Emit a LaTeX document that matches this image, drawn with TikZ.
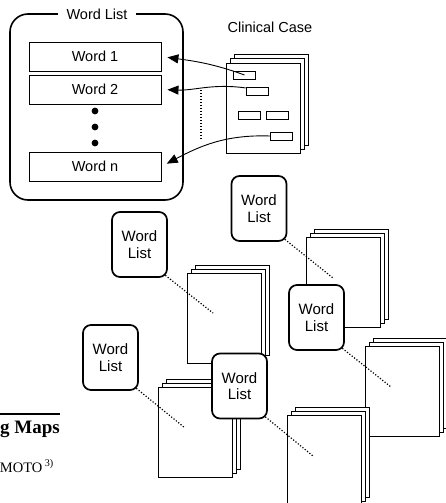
\documentclass[tikz,border=0pt]{standalone}
\usepackage{fontspec}
\setmainfont{Liberation Sans}
\newfontfamily\serifpage{Liberation Serif}
\usetikzlibrary{arrows.meta,calc}

\tikzset{
  sheet/.style={draw, fill=white, line width=1pt},
  wordbox/.style={draw, line width=.9pt, minimum width=132pt, minimum height=29pt, inner sep=0pt},
  keybox/.style={draw, line width=.9pt, minimum width=22pt, minimum height=8pt, inner sep=0pt},
  wlist/.style={draw, fill=white, line width=1.7pt, rounded corners=8pt, minimum width=55pt,
    minimum height=65pt, align=center, inner sep=0pt, font=\fontsize{15}{16.5}\selectfont},
  link/.style={dash pattern=on 1.2pt off 1.8pt, line width=1.2pt},
  pick/.style={-{Triangle[length=11pt,width=9pt]}, line width=.9pt, shorten >=6pt},
}

% three sheets, front one named #1, top left corner at (#2,#3)
\newcommand{\pagestack}[3]{%
  \foreach \gap in {8,4}
    \draw[sheet] (#2+\gap,#3-\gap) rectangle ++(74,90);
  \node[sheet, minimum width=74pt, minimum height=90pt, anchor=north west, inner sep=0pt] (#1) at (#2,#3) {};
}

\begin{document}
\begin{tikzpicture}[x=1pt, y=-1pt, font=\fontsize{14.5}{16}\selectfont]
    \useasboundingbox (0,0) rectangle (446,503);
    \clip (0,0) rectangle (446,503);

    % the word list
    \draw[line width=1.6pt, rounded corners=18pt] (10,14) rectangle (183,200);
    \node[fill=white, inner xsep=9pt] (title) at (97,14) {Word List};
    \node[wordbox] (w1) at (95,56.5) {Word 1};
    \node[wordbox] (w2) at (95,89.5) {Word 2};
    \node[wordbox] (wn) at (95,166.5) {Word n};
    \foreach \y in {111,127,143}
        \fill (95,\y) circle (3.4pt);

    % the clinical case
    \node (case) at (270,27) {Clinical Case};
    \pagestack{cc}{226}{63}
    \node[keybox] (r1) at (244.5,75) {};
    \node[keybox] (r2) at (257,91) {};
    \node[keybox] (r3) at (249,115) {};
    \node[keybox] (r4) at (277.5,115) {};
    \node[keybox] (r5) at (281.5,136) {};
    \draw[pick] (r1.center) to[out=160,in=-8] (w1.east);
    \draw[pick] (r2.165) to[out=172,in=-2] (w2.east);
    \draw[pick] (r5.west) to[out=178,in=28] (wn.east);
    \coordinate (rtop) at (201,90);
    \coordinate (rbot) at (201,139);
    \draw[link] (rtop) -- (rbot);

    % many cases, each with its list
    \pagestack{p1}{187}{273}
    \pagestack{p2}{306}{237}
    \pagestack{p3}{158}{387}
    \pagestack{p4}{365}{346}
    \pagestack{p5}{287}{415}
    \coordinate (e1) at (333,278);
    \coordinate (e2) at (213,313);
    \coordinate (e3) at (185,428);
    \coordinate (e4) at (313,456);
    \coordinate (e5) at (391,387);
    \node[wlist] (l1) at (259,208.5) {Word\\List};
    \node[wlist] (l2) at (139.5,244.5) {Word\\List};
    \node[wlist] (l3) at (110.5,357.5) {Word\\List};
    \node[wlist] (l4) at (239.5,386) {Word\\List};
    \node[wlist] (l5) at (316.5,317.5) {Word\\List};
    \foreach \i in {1,...,5}
        \draw[link] ($(l\i.south east)+(-2.5,-2.5)$) -- (e\i);

    % bits of the page
    \draw[line width=1.8pt] (0,414) -- (60,414);
    \node[anchor=base east, inner sep=0pt, font=\serifpage\bfseries\fontsize{19}{22}\selectfont] (head) at (60,433) {g Maps};
    \node[anchor=base east, inner sep=0pt, font=\serifpage\fontsize{14.5}{17}\selectfont] (auth) at (54,472) {MOTO\,\textsuperscript{3)}};
\end{tikzpicture}
\end{document}
